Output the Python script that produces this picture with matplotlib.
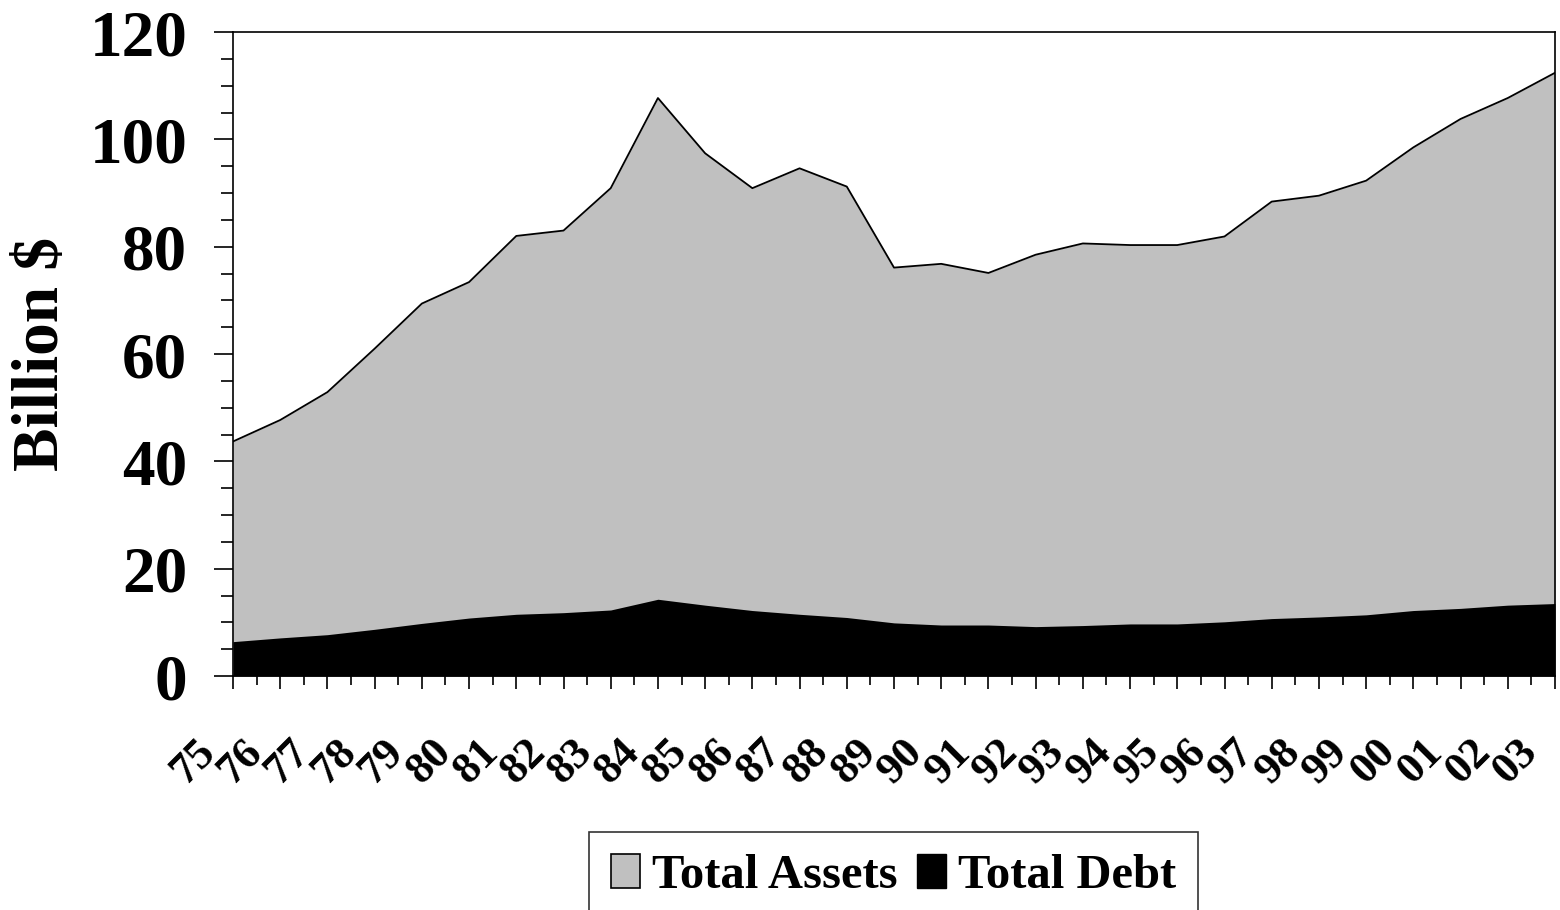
import matplotlib
matplotlib.use("Agg")
import matplotlib.pyplot as plt
import matplotlib.transforms as mtransforms
from matplotlib.patches import Patch
import numpy as np

plt.rcParams['font.family'] = ['Liberation Serif', 'DejaVu Serif']
plt.rcParams['font.weight'] = 'bold'

# fiscal years 1975-2003, billions of dollars
years = ["75", "76", "77", "78", "79", "80", "81", "82", "83", "84",
         "85", "86", "87", "88", "89", "90", "91", "92", "93", "94",
         "95", "96", "97", "98", "99", "00", "01", "02", "03"]
total_assets = [43.7, 47.7, 52.9, 61.0, 69.4, 73.4, 82.0, 83.0, 90.9, 107.7,
                97.4, 90.9, 94.6, 91.2, 76.1, 76.8, 75.1, 78.5, 80.6, 80.3,
                80.3, 81.9, 88.4, 89.5, 92.3, 98.5, 103.8, 107.7, 112.4]
total_debt = [6.4, 7.1, 7.7, 8.7, 9.8, 10.8, 11.5, 11.8, 12.3, 14.3,
              13.2, 12.2, 11.5, 10.9, 9.9, 9.5, 9.5, 9.2, 9.4, 9.7,
              9.7, 10.1, 10.7, 11.0, 11.4, 12.2, 12.6, 13.2, 13.5]

x = np.arange(len(years))

fig = plt.figure(figsize=(15.6, 9.1), dpi=100)
ax = fig.add_axes([233/1560, 1 - 676/910, (1555 - 233)/1560, (676 - 32)/910])

ax.fill_between(x, 0, total_assets, color="#c0c0c0", linewidth=0)
ax.plot(x, total_assets, color="black", linewidth=1.3)
ax.fill_between(x, 0, total_debt, color="black", linewidth=0)

ax.set_xlim(0, len(years) - 1)
ax.set_ylim(0, 120)

ax.set_yticks(np.arange(0, 121, 20))
ax.set_yticks(np.arange(0, 121, 5), minor=True)
ax.tick_params(axis="y", which="major", length=14, width=1.2, pad=19, labelsize=47)
ax.tick_params(axis="y", which="minor", length=9, width=1.2)

# year labels sit left of their ticks, tilted 45 degrees
ax.set_xticks(x)
ax.set_xticks(x[:-1] + 0.5, minor=True)
ax.set_xticklabels(years, rotation=45, ha="center", va="center",
                   rotation_mode="anchor", fontsize=32)
ax.tick_params(axis="x", which="major", length=9.5, width=1.2, pad=52)
ax.tick_params(axis="x", which="minor", length=6.5, width=1.2)
shift = mtransforms.ScaledTranslation(-0.40, 0, fig.dpi_scale_trans)
for lbl in ax.get_xticklabels():
    lbl.set_transform(lbl.get_transform() + shift)

for sp in ax.spines.values():
    sp.set_linewidth(1.2)

ax.set_ylabel("Billion $", fontsize=47, fontweight="bold")
ax.yaxis.set_label_coords(-(233 - 72)/1322, 0.5)

handles = [Patch(facecolor="#c0c0c0", edgecolor="black", linewidth=1.2),
           Patch(facecolor="black", edgecolor="black")]
leg = fig.legend(handles, ["Total Assets", "Total Debt"], ncol=2,
                 loc="upper center", bbox_to_anchor=(893.5/1560, 1 - 832/910),
                 fontsize=35, frameon=True, fancybox=False, edgecolor="black",
                 handlelength=0.6, handleheight=0.7, handletextpad=0.25,
                 columnspacing=0.4, borderpad=0.45, borderaxespad=0)
leg.get_frame().set_linewidth(1.2)

fig.savefig("out.png", dpi=100)
